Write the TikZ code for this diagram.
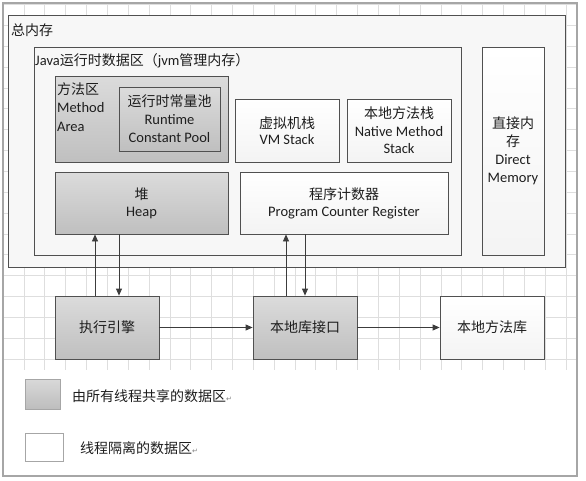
\documentclass[tikz,border=0pt]{standalone}
\usepackage{fontspec}
\setmainfont{Carlito}
\newfontfamily\cjk{Noto Sans CJK SC}
\newfontfamily\symfont{DejaVu Sans}
\usetikzlibrary{arrows.meta}
\definecolor{boxline}{HTML}{505050}
\definecolor{frameline}{HTML}{A6A6A6}
\definecolor{gridline}{HTML}{DEDEDE}
\definecolor{inktext}{HTML}{1E1E1E}
\definecolor{arrowink}{HTML}{3C3C3C}
\newcommand\zh[1]{{\cjk\fontsize{14}{18}\selectfont #1}}
\newcommand\retmark{{\symfont\fontsize{7}{7}\selectfont\textcolor{gray}{↵}}}
\tikzset{
  zone/.style={draw=boxline, line width=0.8pt, inner sep=0pt, text=inktext, align=center, font=\fontsize{14.5}{18}\selectfont},
  shared/.style={zone, top color=gray!28, bottom color=gray!50},
  private/.style={zone, top color=white, bottom color=gray!9},
  frame/.style={zone, fill=gray!6, anchor=north west},
  label/.style={inner sep=0pt, text=inktext, font=\fontsize{14.5}{18.5}\selectfont},
  link/.style={draw=arrowink, line width=0.8pt, -{Triangle[length=7pt,width=6pt]}},
  keybox/.style={draw=gray!70, line width=0.6pt, anchor=north west, inner sep=0pt},
}
\begin{document}
\begin{tikzpicture}[x=1pt, y=-1pt]
    \useasboundingbox (0,0) rectangle (586,480);
    % 背景网格
    \foreach \gx in {0,...,27}
        \draw[gridline, line width=0.6pt] ({3+20.85*\gx},3) -- ({3+20.85*\gx},370);
    \foreach \gy in {0,...,17}
        \draw[gridline, line width=0.6pt] (3,{4.5+20.85*\gy}) -- (577,{4.5+20.85*\gy});
    \draw[frameline, line width=1.6pt] (3,3) rectangle (577,476);

    % 总内存
    \node[frame, minimum width=557, minimum height=252] (total) at (8,15) {};
    \node[label, anchor=west] (totallabel) at (11,30) {\zh{总内存}};

    % jvm管理内存
    \node[frame, minimum width=427, minimum height=208] (jvm) at (34,47) {};
    \node[label, anchor=west] (jvmlabel) at (35,61) {Java\zh{运行时数据区（}jvm\zh{管理内存）}};

    % 方法区
    \node[shared, anchor=north west, minimum width=173, minimum height=86] (method) at (55,76) {};
    \node[label, anchor=west, align=left] (methodlabel) at (57,107) {\zh{方法区}\\Method\\Area};
    \node[shared, minimum width=101, minimum height=64] (pool) at (169.5,119) {\zh{运行时常量池}\\Runtime\\Constant Pool};

    % 栈
    \node[private, minimum width=104, minimum height=63, font=\fontsize{14.5}{16.5}\selectfont] (vmstack) at (287,130.5) {\zh{虚拟机栈}\\VM Stack};
    \node[private, minimum width=104, minimum height=63, font=\fontsize{14.5}{17.5}\selectfont] (nativestack) at (399,130.5) {\zh{本地方法栈}\\Native Method\\Stack};

    % 堆、程序计数器
    \node[shared, minimum width=173, minimum height=62, font=\fontsize{14.5}{17}\selectfont] (heap) at (141.5,203) {\zh{堆}\\Heap};
    \node[private, minimum width=208, minimum height=62, font=\fontsize{14.5}{17}\selectfont] (pc) at (344,203) {\zh{程序计数器}\\Program Counter Register};

    % 直接内存
    \node[private, minimum width=62, minimum height=208] (direct) at (513,151) {\zh{直接内}\\\zh{存}\\Direct\\Memory};

    % 执行引擎、本地库接口、本地方法库
    \node[shared, minimum width=104, minimum height=63] (exec) at (107,327.5) {\zh{执行引擎}};
    \node[shared, minimum width=104, minimum height=63] (iface) at (305,327.5) {\zh{本地库接口}};
    \node[private, minimum width=104, minimum height=63] (lib) at (492,327.5) {\zh{本地方法库}};

    % 连线
    \coordinate (heapup) at (95,0);
    \coordinate (heapdown) at (119,0);
    \coordinate (pcup) at (286,0);
    \coordinate (pcdown) at (305,0);
    \draw[link] (heapup |- exec.north) -- (heapup |- heap.south);
    \draw[link] (heapdown |- heap.south) -- (heapdown |- exec.north);
    \draw[link] (pcup |- iface.north) -- (pcup |- pc.south);
    \draw[link] (pcdown |- pc.south) -- (pcdown |- iface.north);
    \draw[link] (exec) -- (iface);
    \draw[link] (iface) -- (lib);

    % 图例
    \node[keybox, top color=gray!30, bottom color=gray!52, minimum width=35, minimum height=30] (keyshared) at (25,379) {};
    \node[label, anchor=west] (keysharedtext) at (72,396) {\zh{由所有线程共享的数据区}\retmark};
    \node[keybox, fill=white, minimum width=38, minimum height=28] (keyprivate) at (25,433) {};
    \node[label, anchor=west] (keyprivatetext) at (80,448) {\zh{线程隔离的数据区}\retmark};
\end{tikzpicture}
\end{document}
